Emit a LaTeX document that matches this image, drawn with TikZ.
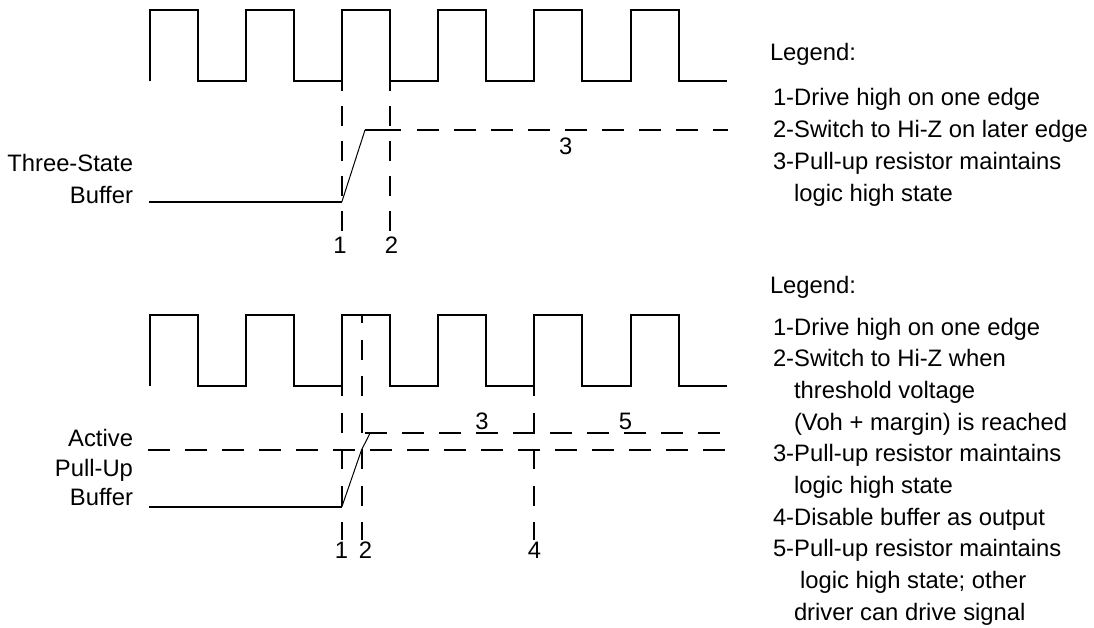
\documentclass[tikz,border=0pt]{standalone}
\usepackage{fontspec}
\setmainfont{Liberation Sans}
\begin{document}
\begin{tikzpicture}[x=1pt,y=-1pt,
  clk/.style={line width=2pt, line join=miter},
  sig/.style={line width=2pt},
  ramp/.style={line width=1pt},
  hdash/.style={line width=2pt, dash pattern=on 22pt off 15pt},
  vdash/.style={line width=2pt, dash pattern=on 20pt off 16.5pt},
  txt/.style={inner sep=0pt, outer sep=0pt, font=\fontsize{23.8}{28}\selectfont},
  lbl/.style={txt, anchor=base west},
  side/.style={txt, anchor=base east},
  num/.style={txt, anchor=center}]
\useasboundingbox (0,0) rectangle (1094,627);
\def\xo{149.5}\def\hp{48.1}
% ---------- top clock ----------
\draw[clk] (\xo,81.3) \foreach \k in {0,2,...,10} {
  -- ({\xo+\k*\hp},9.8) -- ({\xo+(\k+1)*\hp},9.8)
  -- ({\xo+(\k+1)*\hp},81.3) -- ({\xo+(\k+2)*\hp},81.3) };
% ---------- bottom clock ----------
\draw[clk] (\xo,386) \foreach \k in {0,2,...,10} {
  -- ({\xo+\k*\hp},315) -- ({\xo+(\k+1)*\hp},315)
  -- ({\xo+(\k+1)*\hp},386) -- ({\xo+(\k+2)*\hp},386) };

% ---------- top panel ----------
\coordinate (tA) at (149,201.7);
\coordinate (tB) at ({\xo+4*\hp},201.7);
\coordinate (tC) at (365,130);
\coordinate (tD) at (401,130);
\coordinate (tE) at (417,130);
\coordinate (tF) at (728,130);
\draw[sig] (tA) -- (tB);
\draw[ramp] (tB) -- (tC);
\draw[sig] (tC) -- (tD);
\draw[hdash] (tE) -- (tF);
\coordinate (t1a) at ({\xo+4*\hp},81.3);
\coordinate (t1b) at ({\xo+4*\hp},231);
\coordinate (t2a) at ({\xo+5*\hp},81.3);
\coordinate (t2b) at ({\xo+5*\hp},231);
\draw[vdash, dash pattern=on 20pt off 15pt, dash phase=10pt] (t1a) -- (t1b);
\draw[vdash, dash pattern=on 20pt off 15pt, dash phase=10pt] (t2a) -- (t2b);
\node[num] (tn1) at (340,245) {1};
\node[num] (tn2) at (391.5,245) {2};
\node[num] (tn3) at (565.8,146.7) {3};
\node[side] (tl1) at (133,171.4) {Three-State};
\node[side] (tl2) at (133,203.4) {Buffer};

% ---------- bottom panel ----------
\coordinate (bA) at (149,506.7);
\coordinate (bB) at ({\xo+4*\hp},506.7);
\coordinate (bC) at (361.5,450);
\coordinate (bD) at (370,433.3);
\draw[sig] (bA) -- (bB);
\draw[ramp] (bB) -- (bC) -- (bD);
\coordinate (bH1) at (365,433.3);
\coordinate (bH2) at (728,433.3);
\draw[hdash] (bH1) -- (bH2);
\coordinate (bT1) at (148,450);
\coordinate (bT2) at (728,450);
\draw[hdash] (bT1) -- (bT2);
\coordinate (b1a) at ({\xo+4*\hp},386);
\coordinate (b1b) at ({\xo+4*\hp},540);
\coordinate (b2a) at (361.7,315);
\coordinate (b2b) at (361.7,540);
\coordinate (b4a) at ({\xo+8*\hp},386);
\coordinate (b4b) at ({\xo+8*\hp},540);
\draw[vdash, dash phase=10pt] (b1a) -- (b1b);
\draw[vdash, dash phase=12pt] (b2a) -- (b2b);
\draw[vdash, dash phase=10pt] (b4a) -- (b4b);
\node[num] (bn1) at (341.5,550) {1};
\node[num] (bn2) at (365.4,550) {2};
\node[num] (bn4) at (534.6,550) {4};
\node[num] (bn3) at (482,421.7) {3};
\node[num] (bn5) at (625.4,421.7) {5};
\node[side] (bl1) at (133,446.5) {Active};
\node[side] (bl2) at (133,476) {Pull-Up};
\node[side] (bl3) at (133,505.5) {Buffer};

% ---------- top legend ----------
\node[lbl] (tg0) at (770,60) {Legend:};
\node[lbl] (tg1) at (773,105) {1-Drive high on one edge};
\node[lbl] (tg2) at (773,137) {2-Switch to Hi-Z on later edge};
\node[lbl] (tg3) at (773,169) {3-Pull-up resistor maintains};
\node[lbl] (tg4) at (794,201) {logic high state};

% ---------- bottom legend ----------
\node[lbl] (bg0) at (770,293) {Legend:};
\node[lbl] (bg1) at (773,335) {1-Drive high on one edge};
\node[lbl] (bg2) at (773,366.7) {2-Switch to Hi-Z when};
\node[lbl] (bg3) at (794,398.3) {threshold voltage};
\node[lbl] (bg4) at (794,430) {(Voh + margin) is reached};
\node[lbl] (bg5) at (773,461.7) {3-Pull-up resistor maintains};
\node[lbl] (bg6) at (794,493.3) {logic high state};
\node[lbl] (bg7) at (773,525) {4-Disable buffer as output};
\node[lbl] (bg8) at (773,556.7) {5-Pull-up resistor maintains};
\node[lbl] (bg9) at (800,588.3) {logic high state; other};
\node[lbl] (bg10) at (794,620) {driver can drive signal};
\end{tikzpicture}
\end{document}
